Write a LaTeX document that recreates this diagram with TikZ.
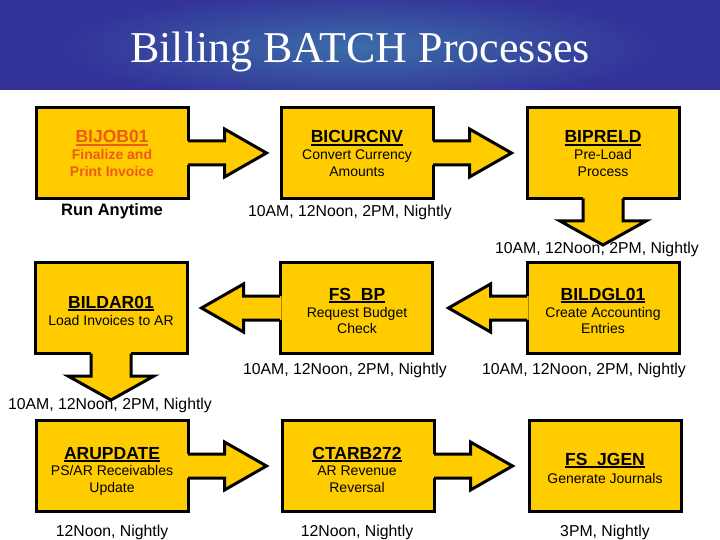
\documentclass[tikz,border=0pt]{standalone}
\usepackage{fontspec}
\setmainfont{Liberation Sans}
\newfontfamily\seriffont{Liberation Serif}
\usetikzlibrary{calc}
\definecolor{boxyellow}{HTML}{FFCC00}
\definecolor{titleblue}{HTML}{333399}
\definecolor{titlelight}{HTML}{3C6CA8}
\definecolor{orangetext}{HTML}{F05A14}
\newcommand\ulbox[1]{\setbox0\hbox{#1}\rlap{\rule[-2.6pt]{\wd0}{1.7pt}}\box0}
\tikzset{
  procbox/.style={draw=black, fill=boxyellow, line width=3pt, minimum width=152pt, minimum height=91pt, inner sep=0pt},
  flowarrow/.style={draw=black, line width=3pt, line join=miter},
  headtxt/.style={font=\fontsize{17.5}{20}\selectfont\bfseries, anchor=base, inner sep=0pt},
  subtxt/.style={font=\fontsize{14}{16}\selectfont, anchor=base, inner sep=0pt},
  timetxt/.style={font=\fontsize{15.8}{18}\selectfont, anchor=base, inner sep=0pt},
}
% right-pointing arrow starting at a box's east anchor
\newcommand\rightarr[1]{%
  \fill[boxyellow] ($(#1)+(-3,-12)$) -- ++(38,0) -- ++(0,-12) -- ++(42,24) -- ++(-42,24) -- ++(0,-12) -- ++(-38,0) -- cycle;
  \draw[flowarrow] ($(#1)+(-1.5,-12)$) -- ++(36.5,0) -- ++(0,-12) -- ++(42,24) -- ++(-42,24) -- ++(0,-12) -- ++(-36.5,0);
}
% left-pointing arrow starting at a box's west anchor
\newcommand\leftarr[1]{%
  \fill[boxyellow] ($(#1)+(3,-12)$) -- ++(-38,0) -- ++(0,-12) -- ++(-42,24) -- ++(42,24) -- ++(0,-12) -- ++(38,0) -- cycle;
  \draw[flowarrow] ($(#1)+(1.5,-12)$) -- ++(-36.5,0) -- ++(0,-12) -- ++(-42,24) -- ++(42,24) -- ++(0,-12) -- ++(36.5,0);
}
% down-pointing arrow starting at a box's south anchor
\newcommand\downarr[1]{%
  \fill[boxyellow] ($(#1)+(-20,-3)$) -- ++(0,24) -- ++(-23,0) -- ++(43,24) -- ++(43,-24) -- ++(-23,0) -- ++(0,-24) -- cycle;
  \draw[flowarrow] ($(#1)+(-20,-1.5)$) -- ++(0,22.5) -- ++(-23,0) -- ++(43,24) -- ++(43,-24) -- ++(-23,0) -- ++(0,-22.5);
}
\begin{document}
\begin{tikzpicture}[x=1pt, y=-1pt]
\useasboundingbox (0,0) rectangle (720,540);
\fill[white] (0,0) rectangle (720,540);
% title bar
\fill[titleblue] (0,0) rectangle (720,90);
\begin{scope}
  \clip (0,0) rectangle (720,90);
  \shade[inner color=titlelight, outer color=titleblue] (360,47) ellipse [x radius=300pt, y radius=55pt];
\end{scope}
\node[font=\seriffont\fontsize{44}{48}\selectfont, text=white, anchor=base, inner sep=0pt] (title) at (360,63) {Billing BATCH Processes};

% boxes
\node[procbox] (b1) at (112,153) {};
\node[procbox] (b2) at (357,153) {};
\node[procbox] (b3) at (603,153) {};
\node[procbox] (b4) at (111,308) {};
\node[procbox] (b5) at (356,308) {};
\node[procbox] (b6) at (603,308) {};
\node[procbox] (b7) at (112,466) {};
\node[procbox] (b8) at (358,466) {};
\node[procbox] (b9) at (605,466) {};

% arrows
\rightarr{b1.east}
\rightarr{b2.east}
\downarr{b3.south}
\leftarr{b6.west}
\leftarr{b5.west}
\downarr{b4.south}
\rightarr{b7.east}
\rightarr{b8.east}

% row 1 texts
\node[headtxt, text=orangetext] (h1) at (112,143) {\ulbox{BIJOB01}};
\node[subtxt, text=orangetext, font=\fontsize{14}{16}\selectfont\bfseries] (s1a) at (112,160) {Finalize and};
\node[subtxt, text=orangetext, font=\fontsize{14}{16}\selectfont\bfseries] (s1b) at (112,177) {Print Invoice};
\node[timetxt, font=\fontsize{16.5}{18}\selectfont\bfseries] (r1) at (112,215) {Run Anytime};

\node[headtxt] (h2) at (357,143) {\ulbox{BICURCNV}};
\node[subtxt] (s2a) at (357,160) {Convert Currency};
\node[subtxt] (s2b) at (357,177) {Amounts};
\node[timetxt] (t1) at (350,217) {10AM, 12Noon, 2PM, Nightly};

\node[headtxt] (h3) at (603,143) {\ulbox{BIPRELD}};
\node[subtxt] (s3a) at (603,160) {Pre-Load};
\node[subtxt] (s3b) at (603,177) {Process};
\node[timetxt] (t2) at (597,253) {10AM, 12Noon, 2PM, Nightly};

% row 2 texts
\node[headtxt] (h4) at (111,308) {\ulbox{BILDAR01}};
\node[subtxt] (s4a) at (111,325) {Load Invoices to AR};
\node[timetxt] (t5) at (110,409) {10AM, 12Noon, 2PM, Nightly};

\node[headtxt] (h5) at (357,300) {\ulbox{FS\_BP}};
\node[subtxt] (s5a) at (357,317) {Request Budget};
\node[subtxt] (s5b) at (357,333) {Check};
\node[timetxt] (t3) at (345,374) {10AM, 12Noon, 2PM, Nightly};

\node[headtxt] (h6) at (603,300) {\ulbox{BILDGL01}};
\node[subtxt] (s6a) at (603,317) {Create Accounting};
\node[subtxt] (s6b) at (603,333) {Entries};
\node[timetxt] (t4) at (584,374) {10AM, 12Noon, 2PM, Nightly};

% row 3 texts
\node[headtxt] (h7) at (112,459) {\ulbox{ARUPDATE}};
\node[subtxt] (s7a) at (112,475) {PS/AR Receivables};
\node[subtxt] (s7b) at (112,492) {Update};
\node[timetxt] (t6) at (112,536) {12Noon, Nightly};

\node[headtxt] (h8) at (357,459) {\ulbox{CTARB272}};
\node[subtxt] (s8a) at (357,475) {AR Revenue};
\node[subtxt] (s8b) at (357,492) {Reversal};
\node[timetxt] (t7) at (357,536) {12Noon, Nightly};

\node[headtxt] (h9) at (605,465) {\ulbox{FS\_JGEN}};
\node[subtxt] (s9a) at (605,483) {Generate Journals};
\node[timetxt] (t8) at (605,536) {3PM, Nightly};
\end{tikzpicture}
\end{document}
